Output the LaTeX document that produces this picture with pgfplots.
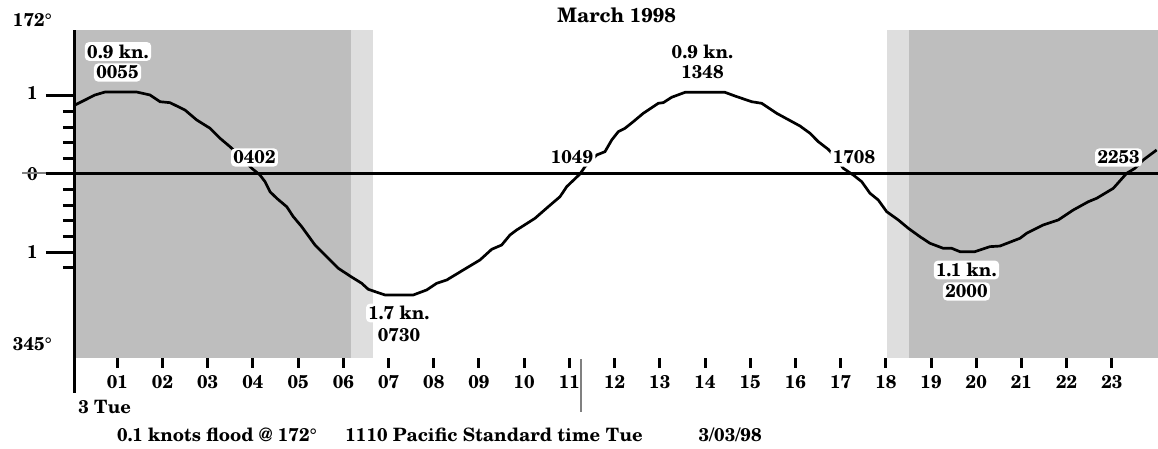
\documentclass[border=0pt]{standalone}
\usepackage{fontspec}
\setmainfont{TeX Gyre Schola}
\usepackage{pgfplots}
\pgfplotsset{compat=1.18}
\definecolor{night}{RGB}{190,190,190}
\definecolor{twi}{RGB}{222,222,222}
\definecolor{midgray}{RGB}{128,128,128}
\pgfplotstableread{
h v
0.064 0.881
0.285 0.945
0.506 1.009
0.728 1.047
1.429 1.047
1.724 1.009
1.946 0.923
2.165 0.911
2.497 0.817
2.756 0.690
3.051 0.584
3.272 0.456
3.492 0.349
3.736 0.217
3.973 0.073
4.156 -0.013
4.267 -0.098
4.377 -0.226
4.526 -0.310
4.747 -0.418
4.893 -0.545
5.079 -0.673
5.373 -0.907
5.632 -1.056
5.888 -1.204
6.147 -1.303
6.406 -1.396
6.552 -1.473
6.921 -1.545
7.547 -1.545
7.843 -1.481
8.065 -1.396
8.286 -1.354
8.653 -1.226
9.022 -1.098
9.281 -0.962
9.502 -0.907
9.686 -0.779
9.834 -0.715
10.239 -0.566
10.533 -0.418
10.792 -0.290
10.940 -0.162
11.234 0.000
11.345 0.093
11.604 0.243
11.787 0.285
11.936 0.434
12.081 0.540
12.230 0.584
12.413 0.668
12.634 0.775
12.966 0.903
13.077 0.911
13.263 0.980
13.557 1.043
14.442 1.043
14.663 0.996
15.032 0.923
15.253 0.903
15.585 0.775
16.101 0.613
16.322 0.520
16.505 0.413
16.726 0.315
16.898 0.204
17.058 0.073
17.280 -0.013
17.466 -0.098
17.649 -0.246
17.832 -0.332
18.018 -0.481
18.275 -0.587
18.496 -0.693
18.755 -0.801
18.976 -0.885
19.270 -0.949
19.456 -0.949
19.639 -0.992
19.971 -0.992
20.303 -0.928
20.524 -0.920
20.967 -0.821
21.115 -0.757
21.482 -0.651
21.814 -0.587
22.146 -0.460
22.478 -0.354
22.664 -0.310
23.031 -0.183
23.327 0.009
23.511 0.073
23.694 0.179
23.990 0.307
}\current
\begin{document}
\begin{tikzpicture}[font=\bfseries\fontsize{9.2}{11}\selectfont,
  lab/.style={fill=white, rounded corners=2pt, inner sep=1.2pt},
  maj/.style={black, line width=1.5pt},
  ]
\begin{axis}[
  scale only axis, width=541.5pt, height=164pt,
  xmin=0.064, xmax=24.02, ymin=-2.35, ymax=1.839,
  clip=false,
  axis line style={draw=none},
  xtick={1,2,...,23},
  xticklabels={01,02,03,04,05,06,07,08,09,10,11,12,13,14,15,16,17,18,19,20,21,22,23},
  xtick pos=bottom,
  tick align=outside,
  major tick length=5pt,
  xtick style={black, line width=1.5pt},
  xticklabel style={font=\bfseries\fontsize{9.2}{11}\selectfont},
  ytick=\empty,
]
% night / twilight shading
\fill[night] (axis cs:0.064,-2.35) rectangle (axis cs:6.16,1.839);
\fill[twi] (axis cs:6.16,-2.35) rectangle (axis cs:6.65,1.839);
\fill[twi] (axis cs:18.02,-2.35) rectangle (axis cs:18.51,1.839);
\fill[night] (axis cs:18.51,-2.35) rectangle (axis cs:24.02,1.839);
% y labels
\node at (axis cs:-0.876,1.967) {172°};
\node at (axis cs:-0.876,-2.171) {345°};
\node at (axis cs:-0.876,1.034) {1};
\node at (axis cs:-0.876,0.0) {0};
\node at (axis cs:-0.876,-0.992) {1};
% zero line and axis line
\draw[black, line width=1.5pt] (axis cs:0.064,0) -- (axis cs:24.02,0);
\draw[midgray, line width=1pt] (axis cs:-1.108,0.019) -- (axis cs:0.064,0.019);
\draw[black, line width=1.5pt] (axis cs:0.064,1.839) -- (axis cs:0.064,-2.797);
% y ticks
\draw[maj] ([xshift=-14.5pt]axis cs:0.064,1) -- (axis cs:0.064,1);
\draw[maj] ([xshift=-14.5pt]axis cs:0.064,0) -- (axis cs:0.064,0);
\draw[maj] ([xshift=-14.5pt]axis cs:0.064,-1) -- (axis cs:0.064,-1);
\draw[maj] ([xshift=-6pt]axis cs:0.064,0.8) -- (axis cs:0.064,0.8);
\draw[maj] ([xshift=-6pt]axis cs:0.064,0.6) -- (axis cs:0.064,0.6);
\draw[maj] ([xshift=-6pt]axis cs:0.064,0.4) -- (axis cs:0.064,0.4);
\draw[maj] ([xshift=-6pt]axis cs:0.064,0.2) -- (axis cs:0.064,0.2);
\draw[maj] ([xshift=-6pt]axis cs:0.064,-0.2) -- (axis cs:0.064,-0.2);
\draw[maj] ([xshift=-6pt]axis cs:0.064,-0.4) -- (axis cs:0.064,-0.4);
\draw[maj] ([xshift=-6pt]axis cs:0.064,-0.6) -- (axis cs:0.064,-0.6);
\draw[maj] ([xshift=-6pt]axis cs:0.064,-0.8) -- (axis cs:0.064,-0.8);
\draw[maj] ([xshift=-6pt]axis cs:0.064,-1.2) -- (axis cs:0.064,-1.2);
% current curve
\addplot[black, line width=1.35pt, no marks] table[x=h, y=v] {\current};
% current time marker
\draw[midgray, line width=1pt] (axis cs:11.26,-2.363) -- (axis cs:11.26,-3.04);
% annotations
\node[lab] at (axis cs:1.015,1.565) {0.9 kn.};
\node[lab] at (axis cs:1.004,1.296) {0055};
\node[lab] at (axis cs:4.034,0.211) {0402};
\node[lab] at (axis cs:11.057,0.211) {1049};
\node[lab] at (axis cs:17.295,0.211) {1708};
\node[lab] at (axis cs:23.150,0.211) {2253};
\node[lab] at (axis cs:13.944,1.558) {0.9 kn.};
\node[lab] at (axis cs:13.944,1.296) {1348};
\node[lab] at (axis cs:7.231,-1.775) {1.7 kn.};
\node[lab] at (axis cs:7.231,-2.063) {0730};
\node[lab] at (axis cs:19.783,-1.226) {1.1 kn.};
\node[lab] at (axis cs:19.783,-1.501) {2000};
\node[font=\bfseries\fontsize{10}{12}\selectfont] at (axis cs:12.046,2.031) {March 1998};
\node[anchor=west, inner sep=0pt] at (axis cs:0.13,-2.982) {3 Tue};
% footer: x positions from pixels (h = (px-72.1)/45.21)
\node[anchor=west, inner sep=0pt] at (axis cs:0.987,-3.333) {0.1 knots flood @ 172°};
\node[anchor=west, inner sep=0pt] at (axis cs:6.036,-3.333) {1110 Pacific Standard time};
\node[anchor=west, inner sep=0pt] at (axis cs:11.80,-3.333) {Tue};
\node[anchor=east, inner sep=0pt] at (axis cs:15.26,-3.333) {3/03/98};
\end{axis}
\pgfresetboundingbox
\path[use as bounding box] (-37.5pt,-45.5pt) rectangle (541.5pt,179pt);
\end{tikzpicture}
\end{document}
